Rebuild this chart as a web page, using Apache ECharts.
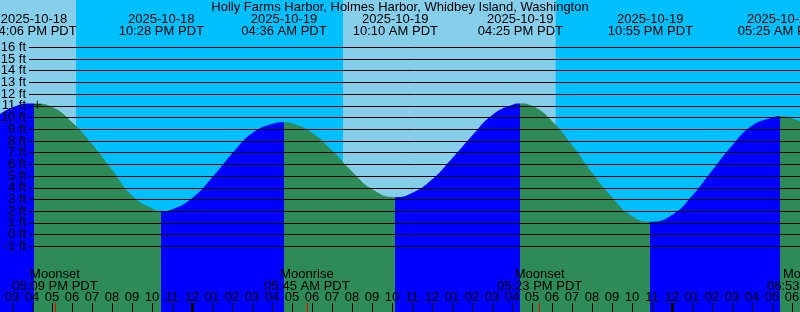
<!DOCTYPE html>
<html>
<head>
<meta charset="utf-8">
<script src="https://cdn.jsdelivr.net/npm/echarts@6/dist/echarts.min.js"></script>
<style>
html,body{margin:0;padding:0;background:#00BFFF;}
#c{width:800px;height:312px;}
</style>
</head>
<body>
<div id="c"></div>
<script>
const chartTitle = 'Holly Farms Harbor, Holmes Harbor, Whidbey Island, Washington';

// hourly tide heights (ft)
const hourlyTimes = [
  '2025-10-18 14:00','2025-10-18 15:00','2025-10-18 17:00','2025-10-18 18:00','2025-10-18 19:00',
  '2025-10-18 20:00','2025-10-18 21:00','2025-10-18 22:00','2025-10-18 23:00','2025-10-19 00:00',
  '2025-10-19 01:00','2025-10-19 02:00','2025-10-19 03:00','2025-10-19 04:00','2025-10-19 05:00',
  '2025-10-19 06:00','2025-10-19 07:00','2025-10-19 08:00','2025-10-19 09:00','2025-10-19 11:00',
  '2025-10-19 12:00','2025-10-19 13:00','2025-10-19 14:00','2025-10-19 15:00','2025-10-19 16:00',
  '2025-10-19 17:00','2025-10-19 18:00','2025-10-19 19:00','2025-10-19 20:00','2025-10-19 21:00',
  '2025-10-19 22:00','2025-10-20 00:00','2025-10-20 01:00','2025-10-20 02:00','2025-10-20 03:00',
  '2025-10-20 04:00','2025-10-20 05:00','2025-10-20 06:00','2025-10-20 07:00','2025-10-20 08:00'
];
const hourlyHeights = [
  9.8, 10.85, 10.9, 9.6, 7.75,
  5.55, 3.35, 2.25, 2.15, 3.1,
  4.85, 6.9, 8.65, 9.45, 9.5,
  8.7, 7.2, 5.4, 3.9, 3.55,
  4.7, 6.5, 8.45, 10.2, 11.08,
  11.0, 9.7, 7.65, 5.3, 3.2,
  1.6, 1.68, 3.3, 5.45, 7.6,
  9.3, 9.98, 9.92, 9.2, 7.9
];

// high / low tide events
const eventTimes = ['2025-10-18 16:06','2025-10-18 22:28','2025-10-19 04:36','2025-10-19 10:10','2025-10-19 16:25','2025-10-19 22:55','2025-10-20 05:25'];
const eventKinds = ['high','low','high','low','high','low','high'];
const eventHeights = [11.2, 2.0, 9.6, 3.2, 11.2, 1.1, 10.1];
const eventClock = ['04:06 PM PDT','10:28 PM PDT','04:36 AM PDT','10:10 AM PDT','04:25 PM PDT','10:55 PM PDT','05:25 AM PDT'];

// moon events
const moonTimes = ['2025-10-18 17:09','2025-10-19 05:45','2025-10-19 17:23','2025-10-20 06:53'];
const moonNames = ['Moonset','Moonrise','Moonset','Moonrise'];
const moonClock = ['05:09 PM PDT','05:45 AM PDT','05:23 PM PDT','06:53 AM PDT'];

// daylight (sun up) bands
const dayStarts = ['2025-10-18 12:00','2025-10-19 07:33'];
const dayEnds   = ['2025-10-18 18:12','2025-10-19 18:11'];

// hour ticks
const hourTimes = [];
const hourLabels = ['03','04','05','06','07','08','09','10','11','12','01','02','03','04','05','06','07','08','09','10',
                    '11','12','01','02','03','04','05','06','07','08','09','10','11','12','01','02','03','04','05','06'];
const firstHour = '2025-10-18 15:00';
const midnightTimes = ['2025-10-19 00:00','2025-10-20 00:00'];

// current-time cross marker
const nowMarkTime = '2025-10-18 16:16';
const nowMarkHeight = 11.1;

// y gridline labels (ft)
const ftMin = -1, ftMax = 16;
const ftTicksOdd  = [-1, 1, 3, 5, 7, 9, 11, 13, 15];
const ftTicksEven = [0, 2, 4, 6, 8, 10, 12, 14, 16];

function hrs(s){
  const parts = s.split(' ');
  const day = +parts[0].slice(8,10);
  const hm = parts[1].split(':').map(Number);
  return (day-18)*24 + hm[0] + hm[1]/60;
}
for (let i=0;i<hourLabels.length;i++) hourTimes.push(hrs(firstHour)+i);

const FONT = "'Liberation Sans', Arial, Helvetica, sans-serif";
const RISE = '#0000FF', FALL = '#2E8B57', DAY = '#87CEEB';
const X_MIN = 14.4, X_MAX = 56.4;

const tideData = [];
hourlyTimes.forEach((t,i)=>tideData.push([hrs(t), hourlyHeights[i]]));
eventTimes.forEach((t,i)=>tideData.push([hrs(t), eventHeights[i]]));
tideData.sort((a,b)=>a[0]-b[0]);

const evX = eventTimes.map(hrs);
const pieces = [];
pieces.push({lt: evX[0], color: eventKinds[0]==='high' ? RISE : FALL});
for (let i=0;i<evX.length;i++){
  const c = eventKinds[i]==='high' ? FALL : RISE;
  if (i < evX.length-1) pieces.push({gte: evX[i], lt: evX[i+1], color: c});
  else pieces.push({gte: evX[i], color: c});
}
const moonX = moonTimes.map(hrs);
const midX = midnightTimes.map(hrs);

function idxOf(arr, v){ for (let i=0;i<arr.length;i++) if (Math.abs(arr[i]-v)<1e-6) return i; return -1; }

const baseX = {gridIndex:0, type:'value', min:X_MIN, max:X_MAX, z:10,
  axisLine:{show:false}, splitLine:{show:false}, axisTick:{show:false}, axisLabel:{show:false}};
const txt = {fontSize:13, color:'#000', fontFamily:FONT};
const ftLabel = function(vals){
  return Object.assign({margin:3, customValues:vals, formatter:'{value} ft', showMinLabel:true, showMaxLabel:true}, txt);
};

const chart = echarts.init(document.getElementById('c'), null, {renderer:'canvas'});
chart.setOption({
  animation:false,
  backgroundColor:'#00BFFF',
  title:{text:chartTitle, left:'center', top:0, padding:[1,0,0,0],
    textStyle:{fontSize:13, fontWeight:'normal', color:'#000', fontFamily:FONT}},
  grid:[
    {left:0, right:-40, top:0, bottom:0, outerBoundsMode:'none', containLabel:false},
    {left:29, right:0, top:47.3, bottom:65.7, outerBoundsMode:'none', containLabel:false}
  ],
  xAxis:[
    Object.assign({}, baseX, {show:true}),
    {gridIndex:1, type:'value', min:0, max:1, show:false},
    Object.assign({}, baseX, {position:'top',
      axisLabel:Object.assign({show:true, inside:true, margin:13.5, lineHeight:12, customValues:evX,
        showMinLabel:true, showMaxLabel:true,
        formatter:function(v){const i=idxOf(evX,v); return i<0?'':eventTimes[i].slice(0,10)+'\n'+eventClock[i];}}, txt)}),
    Object.assign({}, baseX, {position:'bottom',
      axisTick:{show:true, inside:true, length:9, customValues:hourTimes, lineStyle:{color:'#000', width:1}},
      axisLabel:Object.assign({show:true, inside:true, margin:8, lineHeight:13, customValues:hourTimes,
        showMinLabel:true, showMaxLabel:true,
        formatter:function(v){const i=idxOf(hourTimes,v); return i<0?'':hourLabels[i];}}, txt)}),
    Object.assign({}, baseX, {position:'bottom',
      axisTick:{show:true, inside:true, length:9, customValues:midX, lineStyle:{color:'#000', width:3}}}),
    Object.assign({}, baseX, {position:'bottom',
      axisTick:{show:true, inside:true, length:9, customValues:moonX, lineStyle:{color:'#FF0000', width:1}},
      axisLabel:Object.assign({show:true, inside:true, margin:20, lineHeight:12, customValues:moonX,
        showMinLabel:true, showMaxLabel:true,
        formatter:function(v){const i=idxOf(moonX,v); return i<0?'':moonNames[i]+'\n'+moonClock[i];}}, txt)})
  ],
  yAxis:[
    {gridIndex:0, type:'value', min:-6.61, max:20.04, show:false},
    {gridIndex:1, type:'value', min:ftMin, max:ftMax, interval:1, z:10, position:'left',
      axisLine:{show:false}, axisTick:{show:false},
      axisLabel:ftLabel(ftTicksOdd),
      splitLine:{show:true, showMinLine:true, showMaxLine:true, lineStyle:{color:'#000', width:1}}},
    {gridIndex:1, type:'value', min:ftMin, max:ftMax, interval:1, z:10, position:'left', offset:0,
      axisLine:{show:false}, axisTick:{show:false},
      axisLabel:ftLabel(ftTicksEven),
      splitLine:{show:false}}
  ],
  visualMap:{type:'piecewise', show:false, seriesIndex:1, dimension:0, pieces:pieces},
  series:[
    {type:'line', xAxisIndex:0, yAxisIndex:0, data:[], silent:true, z:1,
      markArea:{silent:true, label:{show:false}, itemStyle:{color:DAY, opacity:1, borderWidth:0},
        data: dayStarts.map((s,i)=>[{xAxis:hrs(s)},{xAxis:hrs(dayEnds[i])}])}},
    {type:'line', xAxisIndex:0, yAxisIndex:0, data:tideData, showSymbol:false, smooth:0.5, silent:true, z:2,
      lineStyle:{width:0}, areaStyle:{opacity:1, origin:'start'}},
    {type:'scatter', xAxisIndex:0, yAxisIndex:0, data:[[hrs(nowMarkTime), nowMarkHeight]], silent:true, z:6,
      symbol:'path://M0,3.5H8V4.5H0Z M3.5,0H4.5V8H3.5Z', symbolSize:8, itemStyle:{color:'#000'}},
    {type:'line', xAxisIndex:1, yAxisIndex:1, data:[], silent:true},
    {type:'line', xAxisIndex:1, yAxisIndex:2, data:[], silent:true}
  ]
});
</script>
</body>
</html>
